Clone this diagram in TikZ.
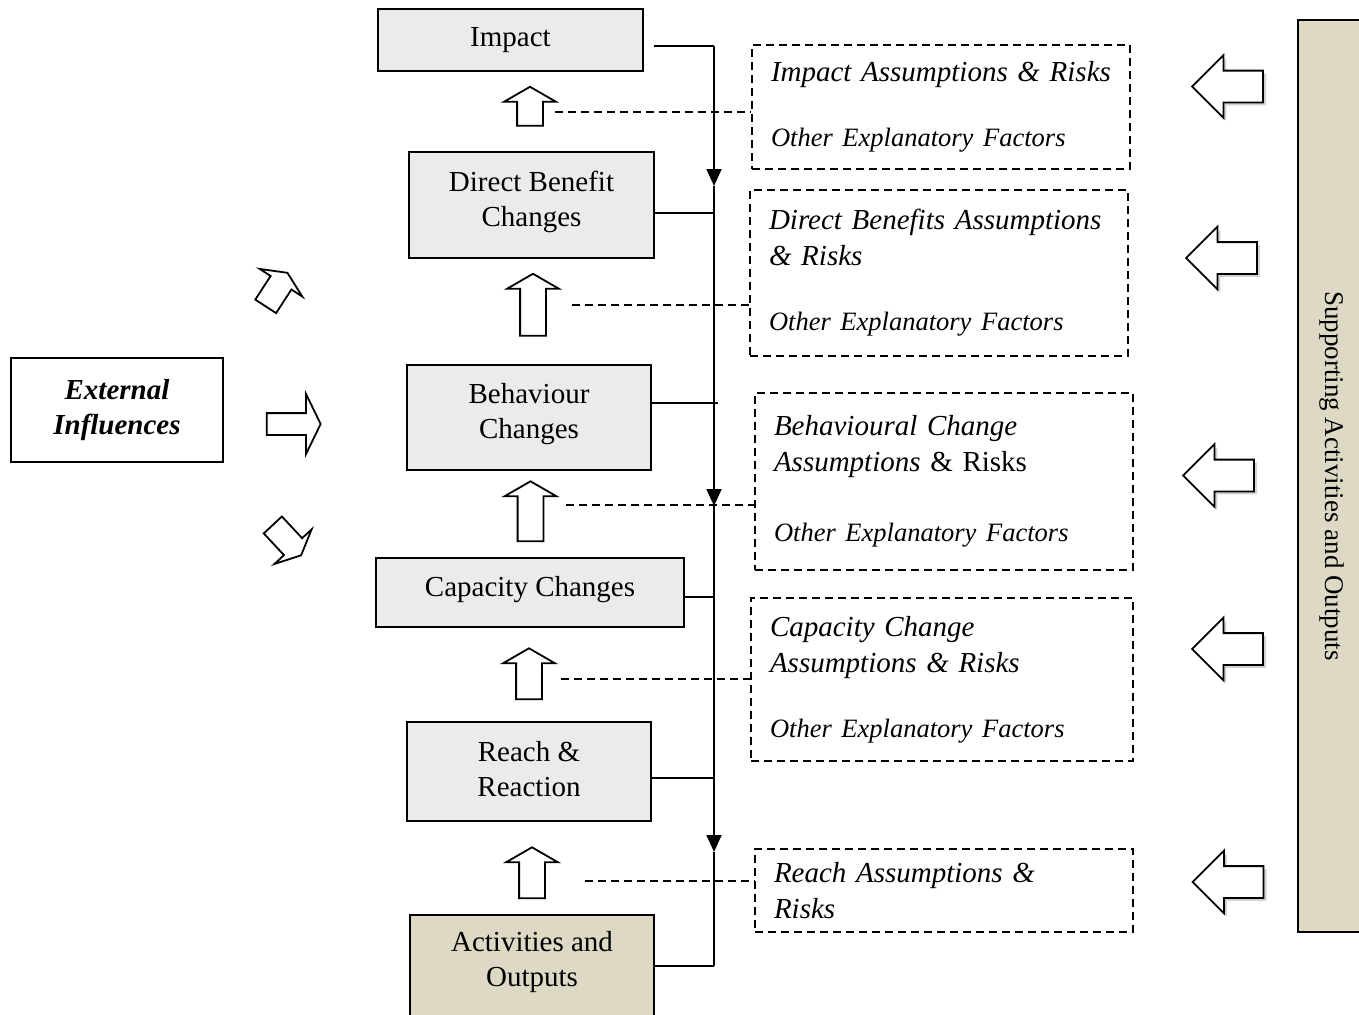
\documentclass[tikz,border=0pt]{standalone}
\usepackage{fontspec}
\setmainfont{Liberation Serif}
\usepackage{xcolor}
\definecolor{stagegray}{RGB}{235,235,235}
\definecolor{khaki}{RGB}{221,217,196}
\usepackage{tikz}
\usetikzlibrary{shapes.arrows, arrows.meta, shadows}
\newcommand{\hdsize}{\fontsize{14.5}{18}\selectfont}
\newcommand{\othsize}{\fontsize{13.25}{16}\selectfont}
\tikzset{
  stage/.style={
    rectangle, draw=black, line width=1pt, fill=stagegray,
    align=center, inner sep=0pt, font=\fontsize{14.5}{17.5}\selectfont},
  assum/.style={
    rectangle, draw=black, line width=0.9pt, dash pattern=on 4pt off 2.5pt,
    text width=170pt, inner xsep=9.5pt, inner ysep=0pt,
    align=left, font=\hdsize\itshape},
  uparr/.style={
    single arrow, draw=black, line width=0.9pt, fill=white, rotate=90,
    inner xsep=0pt, inner ysep=6pt, minimum width=0pt,
    single arrow head extend=6.5pt, single arrow tip angle=120},
  sidearr/.style={
    single arrow, draw=black, line width=0.9pt, fill=white, rotate=180,
    inner xsep=0pt, inner ysep=7.5pt, minimum width=0pt, minimum height=35.5pt,
    single arrow head extend=7.75pt,
    drop shadow={opacity=0.35, shadow xshift=1.5pt, shadow yshift=-1.5pt}},
  extarr/.style={
    single arrow, draw=black, line width=0.9pt, fill=white,
    inner xsep=0pt, inner ysep=5.75pt, minimum width=0pt,
    single arrow head extend=6.5pt, single arrow tip angle=130},
  spine/.style={line width=0.9pt},
  flow/.style={line width=0.9pt, -{Triangle[length=8.5pt, width=7.5pt]}},
  link/.style={line width=0.9pt, dash pattern=on 4pt off 2.5pt},
}

\begin{document}
\begin{tikzpicture}[x=0.5pt, y=-0.5pt]
  \useasboundingbox (0,0) rectangle (1359,1014);

  \node[stage, minimum width=132.5pt, minimum height=31pt] (imp) at (510.5,40) {Impact};
  \node[stage, minimum width=122.5pt, minimum height=53pt, text depth=6.5pt] (dben) at (531.5,205)
    {Direct Benefit\\Changes};
  \node[stage, minimum width=122pt, minimum height=52.5pt, text depth=6.5pt] (behav) at (529,417.5)
    {Behaviour\\Changes};
  \node[stage, minimum width=154pt, minimum height=34.5pt, text depth=6.5pt] (capac) at (530,592.5)
    {Capacity Changes};
  \node[stage, minimum width=122pt, minimum height=49.5pt, text depth=3pt] (reach) at (529,771.5)
    {Reach \&\\Reaction};
  \node[stage, fill=khaki, minimum width=122pt, minimum height=52.5pt, text depth=9pt]
    (actout) at (532,967.5) {Activities and\\Outputs};

  \node[stage, fill=white, font=\fontsize{14.5}{17.5}\selectfont\bfseries\itshape,
        minimum width=106pt, minimum height=52pt, text depth=3pt] (extinf) at (117,410)
    {External\\Influences};

  \node[stage, fill=khaki, rotate=-90, font=\fontsize{13.5}{16}\selectfont,
        minimum width=456pt, minimum height=34pt] (support) at (1332,476)
    {Supporting Activities and Outputs};

  \node[assum, minimum height=62pt] (impass) at (941,107)
    {Impact Assumptions \& Risks\\[14.5pt]{\othsize Other Explanatory Factors}};
  \node[assum, minimum height=83pt] (dbenass) at (939,273)
    {Direct Benefits Assumptions\\\& Risks\\[14.5pt]{\othsize Other Explanatory Factors}};
  \node[assum, minimum height=88.5pt] (behavass) at (944,481.5)
    {Behavioural Change\\Assumptions {\upshape\& Risks}\\[17pt]{\othsize Other Explanatory Factors}};
  \node[assum, text width=172pt, minimum height=81.5pt] (capacass) at (942,679.5)
    {Capacity Change\\Assumptions \& Risks\\[14.5pt]{\othsize Other Explanatory Factors}};
  \node[assum, minimum height=41.5pt] (reachass) at (944,890.5)
    {Reach Assumptions \&\\Risks};

  \node[uparr, minimum height=19.5pt] (upA) at (530,110) {};
  \node[uparr, minimum height=31pt] (upB) at (533,308.5) {};
  \node[uparr, minimum height=30pt] (upC) at (530.5,515) {};
  \node[uparr, minimum height=25.5pt] (upD) at (529,677.5) {};
  \node[uparr, minimum height=25.5pt] (upE) at (532,876.5) {};

  \node[sidearr] (inA) at (1235.5,86.5) {};
  \node[sidearr] (inB) at (1229.5,258) {};
  \node[sidearr] (inC) at (1226.5,475.5) {};
  \node[sidearr] (inD) at (1235.5,649) {};
  \node[sidearr] (inE) at (1236,882) {};

  \node[extarr, rotate=57, minimum height=20pt] (extup) at (275,292) {};
  \node[extarr, minimum height=27pt, inner ysep=5pt, single arrow head extend=9.5pt,
        single arrow tip angle=128] (extright) at (291,424) {};
  \node[extarr, rotate=-47, minimum height=20.75pt] (extdown) at (285,538) {};

  \coordinate (top) at (714,46);
  \coordinate (tipA) at (714,186);
  \coordinate (tipB) at (714,506);
  \coordinate (tipC) at (714,852);
  \coordinate (bot) at (714,966);
  \draw[spine] ([xshift=5pt]imp.east |- top) -- (top);
  \draw[flow] (top) -- (tipA);
  \draw[flow] (tipA) -- (tipB);
  \draw[flow] (tipB) -- (tipC);
  \draw[spine] (tipC) -- (bot);
  \draw[spine] ([yshift=-4pt]dben.east) -- ([yshift=-4pt]dben.east -| top);
  \draw[spine] ([yshift=7.25pt]behav.east) -- ([xshift=2pt,yshift=7.25pt]behav.east -| top);
  \draw[spine] ([xshift=-1pt,yshift=-2.25pt]capac.east) -- ([yshift=-2.25pt]capac.east -| top);
  \draw[spine] ([yshift=-3.25pt]reach.east) -- ([yshift=-3.25pt]reach.east -| top);
  \draw[spine] (actout.east |- bot) -- (bot);

  \draw[link] ([xshift=12.5pt,yshift=-1pt]upA.center) coordinate (dA) -- (dA -| impass.west);
  \draw[link] ([xshift=19.5pt,yshift=1.75pt]upB.center) coordinate (dB) -- (dB -| dbenass.west);
  \draw[link] ([xshift=17.75pt,yshift=5pt]upC.center) coordinate (dC) -- (dC -| behavass.west);
  \draw[link] ([xshift=16pt,yshift=-0.75pt]upD.center) coordinate (dD) -- (dD -| capacass.west);
  \draw[link] ([xshift=26.5pt,yshift=-2.25pt]upE.center) coordinate (dE) -- (dE -| reachass.west);
\end{tikzpicture}
\end{document}
